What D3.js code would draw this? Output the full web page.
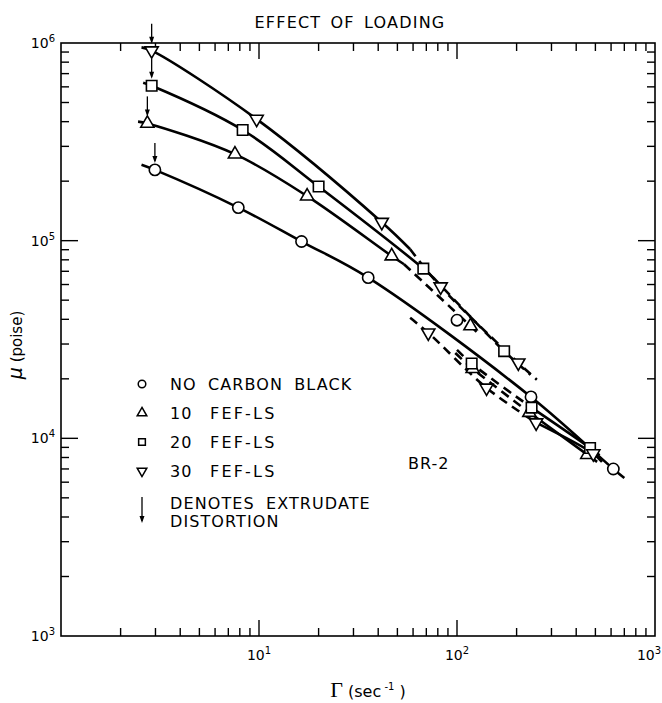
<!DOCTYPE html>
<html><head><meta charset="utf-8">
<script src="https://cdn.jsdelivr.net/npm/d3@7"></script>
<style>
body{margin:0;background:#fff}
svg text{font-family:"DejaVu Sans","Liberation Sans",sans-serif;fill:#000}
</style></head>
<body><svg id="c" width="662" height="703"></svg>
<script>
// ---------- data ----------
const chartTitle = "EFFECT OF LOADING";
const xTitle = "Γ";
const yTitle = "μ";
const xDomain = [1, 1000];
const yDomain = [1e3, 1e6];
const xMajorTicks = [10, 100, 1000];
const xTickLabels = ["1", "2", "3"];      // exponents of 10
const yMajorTicks = [1e3, 1e4, 1e5, 1e6];
const yTickLabels = ["3", "4", "5", "6"];
const legendNumbers = ["", "10", "20", "30"];
const legendNames = ["NO CARBON BLACK", "FEF-LS", "FEF-LS", "FEF-LS"];
const noteLines = ["DENOTES EXTRUDATE", "DISTORTION"];
const sampleLabel = "BR-2";

// solid curves (shear rate s^-1, viscosity poise)
const noCB_curve = [[2.55,2.42e5],[2.98,2.28e5],[7.86,1.47e5],[16.4,9.9e4],[35.6,6.5e4],[236.5,1.62e4],[616,7.0e3],[700,6.3e3]];
const f10_curve  = [[2.45,4.0e5],[2.73,3.92e5],[7.56,2.74e5],[17.5,1.68e5],[46.8,8.36e4],[54,7.6e4]];
const f20_curve  = [[2.6,6.3e5],[2.87,6.08e5],[8.27,3.63e5],[20,1.88e5],[67.6,7.22e4],[76,6.5e4]];
const f30_curve  = [[2.55,9.5e5],[2.87,9.15e5],[9.73,4.12e5],[41.7,1.24e5],[58,9.05e4]];
// high-rate branches joining at the right (solid)
const f10_tail = [[232,1.35e4],[455,8.27e3],[510,7.6e3]];
const f20_tail = [[238,1.43e4],[470,8.94e3],[525,8.2e3]];
const f30_tail = [[251,1.2e4],[488,8.37e3],[540,7.6e3]];

// dashed branches
const f10_upper = [[54,7.6e4],[117,3.7e4],[132,3.3e4]];
const f20_upper = [[76,6.5e4],[173,2.76e4],[235,2.1e4]];
const f30_upper = [[58,9.05e4],[82.7,5.85e4],[204,2.41e4],[253,1.98e4]];
const f10_lower = [[98,2.7e4],[120,2.25e4],[232,1.35e4]];
const f20_lower = [[100,2.8e4],[118.6,2.39e4],[238,1.43e4]];
const f30_lower = [[58,4.07e4],[71.6,3.42e4],[141,1.8e4],[251,1.2e4]];

// measured points (markers)
const noCB_pts = [[2.98,2.28e5],[7.86,1.47e5],[16.4,9.9e4],[35.6,6.5e4],[100,3.96e4],[236.5,1.62e4],[616,7.0e3]];
const f10_pts  = [[2.73,3.92e5],[7.56,2.74e5],[17.5,1.68e5],[46.8,8.36e4],[117,3.7e4],[120,2.25e4],[232,1.35e4],[455,8.27e3]];
const f20_pts  = [[2.87,6.08e5],[8.27,3.63e5],[20,1.88e5],[67.6,7.22e4],[118.6,2.39e4],[173,2.76e4],[238,1.43e4],[470,8.94e3]];
const f30_pts  = [[2.87,9.15e5],[9.73,4.12e5],[41.7,1.24e5],[82.7,5.85e4],[71.6,3.42e4],[141,1.8e4],[204,2.41e4],[251,1.2e4],[488,8.37e3]];

// extrudate distortion onset (arrow) points
const distortion = [[2.98,2.28e5],[2.73,3.92e5],[2.87,6.08e5],[2.87,9.15e5]];

// ---------- drawing ----------
const svg = d3.select("#c");
const L=61,R=655,T=43,B=636;
const x = d3.scaleLog().domain(xDomain).range([L,R]);
const y = d3.scaleLog().domain(yDomain).range([B,T]);

svg.append("rect").attr("x",L).attr("y",T).attr("width",R-L).attr("height",B-T)
  .attr("fill","none").attr("stroke","#000").attr("stroke-width",1.6);

const xt = x.ticks().filter(v=>v>xDomain[0] && v<xDomain[1]);
const yt = y.ticks().filter(v=>v>yDomain[0] && v<yDomain[1]);
const isMajor = v => Math.abs(Math.log10(v)-Math.round(Math.log10(v)))<1e-9;
const g = svg.append("g").attr("stroke","#000").attr("stroke-width",1.4);
xt.forEach(v=>{
  const len = isMajor(v)?16:8;
  g.append("line").attr("x1",x(v)).attr("x2",x(v)).attr("y1",B).attr("y2",B-len);
  g.append("line").attr("x1",x(v)).attr("x2",x(v)).attr("y1",T).attr("y2",T+len);
});
yt.forEach(v=>{
  const len = isMajor(v)?17:8;
  g.append("line").attr("y1",y(v)).attr("y2",y(v)).attr("x1",L).attr("x2",L+len);
  g.append("line").attr("y1",y(v)).attr("y2",y(v)).attr("x1",R).attr("x2",R-len);
});

xMajorTicks.forEach((v,i)=>{
  const t = svg.append("text").attr("x",x(v)-(i===xMajorTicks.length-1?6:0)).attr("y",B+24)
    .attr("text-anchor","middle").attr("font-size",14);
  t.append("tspan").text("10");
  t.append("tspan").attr("dy",-6).attr("font-size",10).text(xTickLabels[i]);
});
yMajorTicks.forEach((v,i)=>{
  const t = svg.append("text").attr("x",L-6).attr("y",y(v)+5)
    .attr("text-anchor","end").attr("font-size",14);
  t.append("tspan").text("10");
  t.append("tspan").attr("dy",-6).attr("font-size",10).text(yTickLabels[i]);
});

svg.append("text").attr("x",(L+R)/2-8).attr("y",28).attr("text-anchor","middle")
  .attr("font-size",16).attr("letter-spacing",1.2).attr("word-spacing",3).text(chartTitle);
const xl = svg.append("text").attr("x",(L+R)/2+10).attr("y",697).attr("text-anchor","middle").attr("font-size",16);
xl.append("tspan").attr("font-family","Liberation Serif").attr("font-size",22).text(xTitle);
xl.append("tspan").text(" (sec");
xl.append("tspan").attr("dy",-7).attr("font-size",10).text(" -1");
xl.append("tspan").attr("dy",7).text(" )");
const yl = svg.append("text").attr("transform","translate(22,345) rotate(-90)").attr("text-anchor","middle").attr("font-size",15);
yl.append("tspan").attr("font-style","italic").attr("font-size",19).text(yTitle);
yl.append("tspan").text(" (poise)");

// curves
const smooth = d3.line().x(d=>x(d[0])).y(d=>y(d[1])).curve(d3.curveCatmullRom.alpha(0.5));
const solidW = 2.6;
[noCB_curve,f10_curve,f20_curve,f30_curve,f10_tail,f20_tail,f30_tail].forEach(c=>{
  svg.append("path").attr("d",smooth(c)).attr("fill","none").attr("stroke","#000").attr("stroke-width",solidW);
});
[f10_upper,f20_upper,f30_upper,f10_lower,f20_lower,f30_lower].forEach(c=>{
  svg.append("path").attr("d",smooth(c)).attr("fill","none").attr("stroke","#000")
    .attr("stroke-width",solidW).attr("stroke-dasharray","9,6");
});

// markers
const shapes = [
  {pts:noCB_pts, path:d3.symbol(d3.symbolCircle, 100)(), rot:0},
  {pts:f10_pts, path:d3.symbol(d3.symbolTriangle, 75)(), rot:0},
  {pts:f20_pts, path:d3.symbol(d3.symbolSquare, 110)(), rot:0},
  {pts:f30_pts, path:d3.symbol(d3.symbolTriangle, 75)(), rot:180},
];
shapes.forEach(s=>{
  s.pts.forEach(p=>{
    svg.append("path").attr("d",s.path)
      .attr("transform",`translate(${x(p[0])},${y(p[1])}) rotate(${s.rot})`)
      .attr("fill","#fff").attr("stroke","#000").attr("stroke-width",1.6);
  });
});

function arrow(cx, y1, y2){
  svg.append("line").attr("x1",cx).attr("x2",cx).attr("y1",y1).attr("y2",y2-2)
    .attr("stroke","#000").attr("stroke-width",1.3);
  svg.append("path").attr("d",`M${cx-2.5},${y2-7} L${cx},${y2} L${cx+2.5},${y2-7} Z`).attr("fill","#000");
}
distortion.forEach(p=>arrow(x(p[0]), y(p[1])-27, y(p[1])-7));

// legend
const legX = 142, legTextX = 170, legNameX = 210, legY0 = 384, legDy = 29;
const legSyms = [d3.symbol(d3.symbolCircle,45)(), d3.symbol(d3.symbolTriangle,40)(), d3.symbol(d3.symbolSquare,45)(), d3.symbol(d3.symbolTriangle,40)()];
legendNames.forEach((lab,i)=>{
  const yy = legY0 + i*legDy;
  svg.append("path").attr("d",legSyms[i]).attr("transform",`translate(${legX},${yy}) rotate(${i===3?180:0})`)
    .attr("fill","#fff").attr("stroke","#000").attr("stroke-width",1.5);
  if (legendNumbers[i]) {
    svg.append("text").attr("x",legTextX).attr("y",yy+6).attr("font-size",16).attr("letter-spacing",1).text(legendNumbers[i]);
    svg.append("text").attr("x",legNameX).attr("y",yy+6).attr("font-size",16).attr("letter-spacing",2.2).text(lab);
  } else {
    svg.append("text").attr("x",legTextX).attr("y",yy+6).attr("font-size",16).attr("letter-spacing",1.1).attr("word-spacing",5).text(lab);
  }
});
arrow(legX, 497, 523);
noteLines.forEach((t,i)=>{
  svg.append("text").attr("x",legTextX).attr("y",509+i*18).attr("font-size",16).attr("letter-spacing",1.1).attr("word-spacing",5).text(t);
});

svg.append("text").attr("x",408).attr("y",469).attr("font-size",16).attr("letter-spacing",1).text(sampleLabel);
</script>
</body></html>
